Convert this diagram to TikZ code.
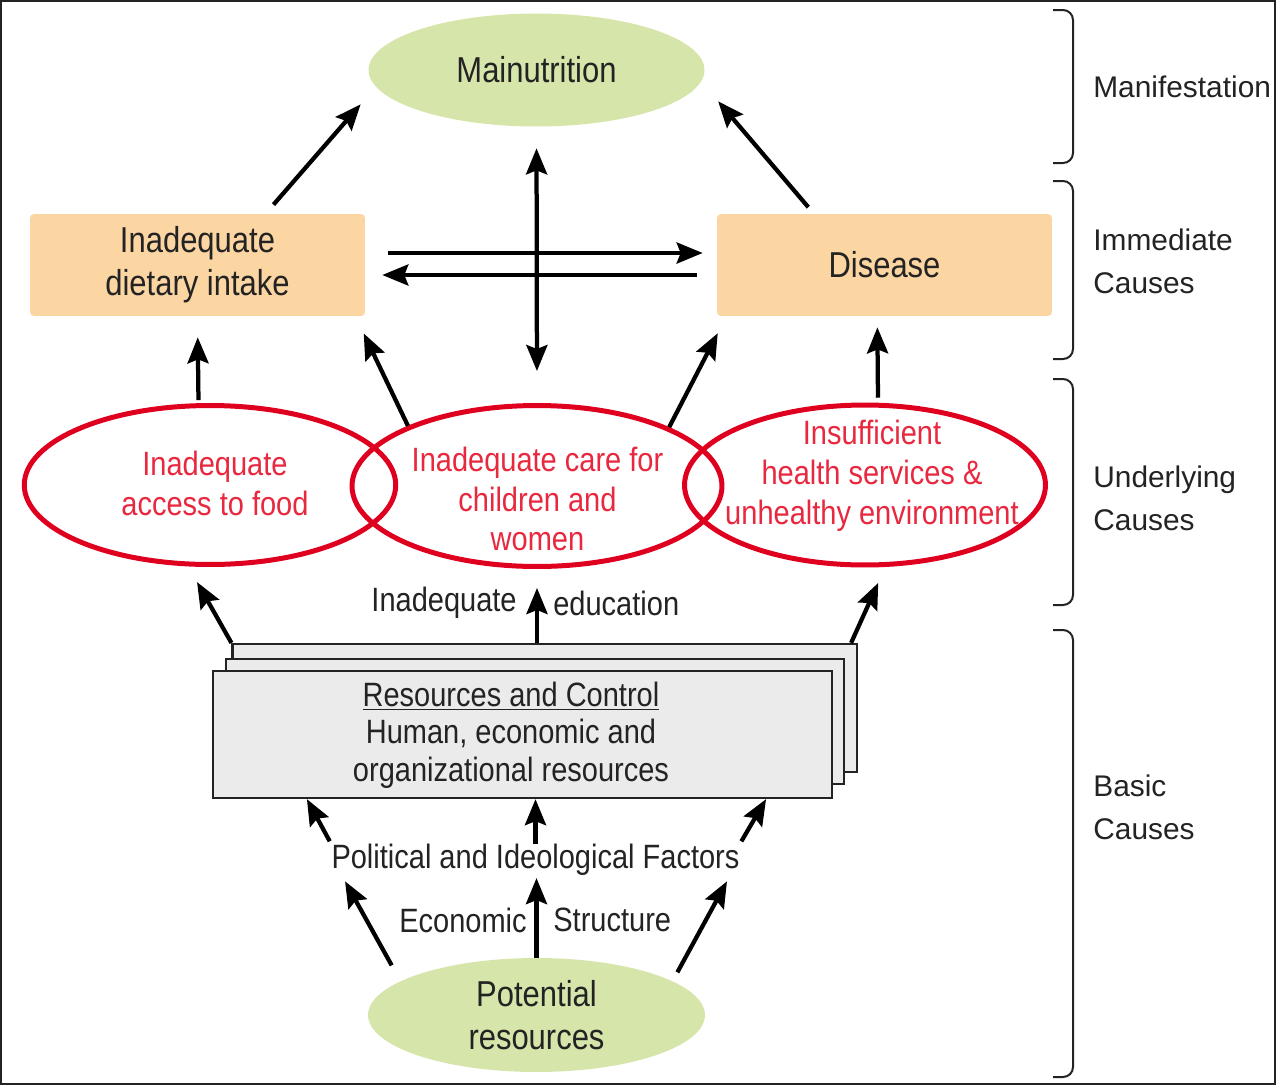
\documentclass[tikz,border=0pt]{standalone}
\usepackage{fontspec}
\setmainfont{Liberation Sans}[FakeStretch=0.86]
\newfontfamily\stagefont{Liberation Sans}
\usetikzlibrary{shapes.geometric,arrows.meta}
\definecolor{leafgreen}{RGB}{214,229,170}
\definecolor{peach}{RGB}{251,213,162}
\definecolor{causered}{RGB}{222,0,30}
\definecolor{redtext}{RGB}{232,40,62}
\definecolor{stackgray}{RGB}{235,235,235}
\definecolor{inkgray}{RGB}{35,35,35}
\newcommand{\bigtext}{\fontsize{20.5pt}{24.5pt}\selectfont}
\newcommand{\midtext}{\fontsize{19.2pt}{22.7pt}\selectfont}
\newcommand{\stacktext}{\fontsize{19.2pt}{21.3pt}\selectfont}
\newcommand{\stagetext}{\stagefont\fontsize{17pt}{24.5pt}\selectfont}
\tikzset{
	% node styles: green outcome, peach cause, red underlying cause, gray stack
	green node/.style={ellipse,fill=leafgreen,inner sep=0,minimum width=6.72cm,minimum height=2.26cm,text=inkgray,align=center,font=\bigtext},
	peach box/.style={rectangle,rounded corners=0.08cm,fill=peach,inner sep=0,minimum width=6.7cm,minimum height=2.04cm,text=inkgray,align=center,font=\bigtext},
	red node/.style={ellipse,draw=causered,line width=0.1cm,inner sep=0},
	red label/.style={inner sep=0,text=redtext,align=center,font=\midtext},
	stack box/.style={rectangle,fill=stackgray,draw=inkgray,line width=0.045cm,inner sep=0},
	plain label/.style={inner sep=0,text=inkgray,align=center,font=\midtext},
	stage label/.style={anchor=west,inner sep=0,text=inkgray,align=left,font=\stagetext},
	% connectors
	bighead/.tip={Stealth[length=0.52cm,width=0.42cm,inset=0.08cm]},
	arrow line/.style={line width=0.085cm,-bighead},
	double arrow/.style={line width=0.085cm,bighead-bighead},
	brace line/.style={draw=inkgray,line width=0.04cm,rounded corners=0.2cm}
}
\begin{document}
\begin{tikzpicture}[x=0.02cm,y=-0.02cm]
	% macro for the level brackets on the right
	\newcommand{\stagebrace}[5]{%
		\draw[brace line] (1053,#2) -- (1073,#2) -- (1073,#3) -- (1053,#3);
		\node[stage label] (#1) at (1093,#4) {#5};
	}
	\useasboundingbox (0,0) rectangle (1276,1086);
	\draw[draw=inkgray,line width=0.04cm] (1,1) rectangle (1275,1084);
	
	% manifestation and immediate causes
	\node[green node] (malnut) at (536.5,70) {Mainutrition};
	\node[peach box] (diet) at (197.5,265) {Inadequate\\dietary intake};
	\node[peach box] (disease) at (884.5,265) {Disease};
	
	% underlying causes
	\node[red node,minimum width=7.43cm,minimum height=3.18cm] (food) at (210,485) {};
	\node[red node,minimum width=7.4cm,minimum height=3.22cm] (care) at (537,486) {};
	\node[red node,minimum width=7.22cm,minimum height=3.2cm] (health) at (865,485) {};
	\node[red label] (food-txt) at (215,483) {Inadequate\\access to food};
	\node[red label] (care-txt) at (537.5,499) {Inadequate care for\\children and\\women};
	\node[red label] (health-txt) at (872,476) {Insufficient\\health services \&\\unhealthy environment};
	
	% basic causes
	\node[stack box,minimum width=12.49cm,minimum height=2.56cm] (back) at (544.75,708) {};
	\node[stack box,minimum width=12.36cm,minimum height=2.5cm] (middle) at (535,721.5) {};
	\node[stack box,minimum width=12.38cm,minimum height=2.54cm] (front) at (522.5,734.5) {};
	\node[plain label,font=\stacktext] (res-txt) at (511,735) {\underline{Resources and Control}\\Human, economic and\\organizational resources};
	\node[plain label,anchor=east] (inad-edu) at (517,603) {Inadequate};
	\node[plain label,anchor=west] (edu) at (553,603) {education};
	\node[plain label] (politics) at (535.5,860) {Political and Ideological Factors};
	\node[plain label,anchor=east] (econ) at (527,920) {Economic};
	\node[plain label,anchor=west] (struct) at (553,920) {Structure};
	\node[green node,minimum width=6.74cm,minimum height=2.28cm] (potential) at (536.5,1015) {Potential\\resources};
	
	% arrows between the levels
	\draw[arrow line,shorten <=0.24cm,shorten >=0.46cm] (diet.37) -- (malnut.186);
	\draw[arrow line,shorten <=0.17cm,shorten >=0.52cm] (disease.144) -- (malnut.356);
	\draw[double arrow,shorten <=0.43cm,shorten >=0.64cm] (malnut.south) -- (care.north);
	\draw[arrow line,shorten <=0.46cm,shorten >=0.28cm] ([yshift=0.24cm]diet.east) -- ([yshift=0.24cm]disease.west);
	\draw[arrow line,shorten <=0.4cm,shorten >=0.34cm] ([yshift=-0.2cm]disease.west) -- ([yshift=-0.2cm]diet.east);
	\draw[arrow line,shorten <=0.06cm,shorten >=0.42cm] (food.98) -- (diet.south);
	\draw[arrow line,shorten >=0.38cm] (care.155) -- (diet.342);
	\draw[arrow line,shorten >=0.38cm] (care.24) -- (disease.198);
	\draw[arrow line,shorten <=0.1cm,shorten >=0.22cm] (health.81) -- (disease.262);
	\draw[arrow line,shorten >=0.36cm] (back.north west) -- (food.255);
	\draw[arrow line,shorten >=0.38cm] (care.south |- back.north) -- (care.south);
	\draw[arrow line,shorten >=0.35cm] (back.12) -- (health.284);
	\draw[arrow line,shorten <=0.06cm] (politics.north west) -- ([xshift=1.9cm]front.south west);
	\draw[arrow line] (politics.north) -- (politics.north |- front.south);
	\draw[arrow line,shorten <=0.06cm] (politics.north east) -- ([xshift=-1.34cm]front.south east);
	\draw[arrow line,shorten <=0.36cm,shorten >=0.12cm] (potential.166) -- ([xshift=0.22cm]politics.south west);
	\draw[arrow line,shorten >=0.04cm] (potential.north) -- (potential.north |- politics.south);
	\draw[arrow line,shorten <=0.2cm,shorten >=0.12cm] (potential.14) -- ([xshift=-0.2cm]politics.south east);
	
	% level brackets
	\stagebrace{manif}{10}{163}{87}{Manifestation}
	\stagebrace{immed}{181}{359}{261}{Immediate\\Causes}
	\stagebrace{under}{379}{605}{498.5}{Underlying\\Causes}
	\stagebrace{basic}{630}{1077}{807}{Basic\\Causes}
\end{tikzpicture}
\end{document}
